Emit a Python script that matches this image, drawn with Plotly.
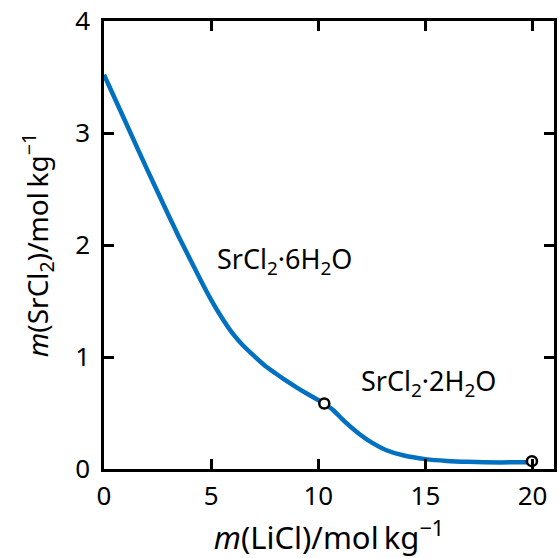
import plotly.graph_objects as go

# Solubility curve: SrCl2·6H2O branch (up to the first invariant point)
x_branch1 = [0, 1, 2, 3, 3.5, 4.0, 4.5, 5.0, 5.5, 6.0, 6.5, 7.0, 7.5, 8.0, 8.5, 9.0, 9.5, 10.28]
y_branch1 = [3.52, 3.10, 2.68, 2.27, 2.07, 1.88, 1.69, 1.51, 1.35, 1.21, 1.10, 1.01, 0.925, 0.855, 0.788, 0.727, 0.67, 0.585]

# SrCl2·2H2O branch
x_branch2 = [10.28, 10.7, 11.2, 11.9, 12.5, 13.15, 14.0, 15.0, 16.0, 17.0, 18.5, 20.0]
y_branch2 = [0.585, 0.525, 0.43, 0.315, 0.235, 0.17, 0.12, 0.088, 0.072, 0.064, 0.059, 0.06]

# Invariant points
x_points = [10.28, 19.97]
y_points = [0.585, 0.07]

# Phase labels
label_text = ["SrCl<sub>2</sub>·6H<sub>2</sub>O", "SrCl<sub>2</sub>·2H<sub>2</sub>O"]
label_x = [8.4, 15.14]
label_y = [1.86, 0.77]

x_ticks = [0, 5, 10, 15, 20]
y_ticks = [0, 1, 2, 3, 4]

FONT = "Noto Sans"
BLUE = "#0070C0"

fig = go.Figure()
for xs, ys in [(x_branch1, y_branch1), (x_branch2, y_branch2)]:
    fig.add_trace(go.Scatter(x=xs, y=ys, mode="lines",
                             line=dict(color=BLUE, width=4.5, shape="spline", smoothing=0.6),
                             hoverinfo="skip", showlegend=False))
fig.add_trace(go.Scatter(x=x_points, y=y_points, mode="markers",
                         marker=dict(symbol="circle", size=10, color="white",
                                     line=dict(color="black", width=2.5)),
                         showlegend=False))

for t, xx, yy in zip(label_text, label_x, label_y):
    fig.add_annotation(x=xx, y=yy, text=t, showarrow=False,
                       font=dict(family=FONT, size=27, color="black"))

axis_common = dict(showline=True, linecolor="black", linewidth=2.5, mirror="ticks",
                   ticks="inside", ticklen=10, tickwidth=2.5, tickcolor="black",
                   showgrid=False, zeroline=False, ticklabeloverflow="allow",
                   tickfont=dict(family=FONT, size=26, color="black"))

fig.update_xaxes(range=[0, 21], tickvals=x_ticks, ticklabelstandoff=2, **axis_common,
                 title=dict(text="<i>m</i>(LiCl)/mol\u2009kg<sup>−1</sup>",
                            font=dict(family=FONT, size=31, color="black"), standoff=11))
fig.update_yaxes(range=[0, 4], tickvals=y_ticks, ticklabelstandoff=6, **axis_common,
                 title=dict(text="<i>m</i>(SrCl<sub>2</sub>)/mol\u2009kg<sup>−1</sup>",
                            font=dict(family=FONT, size=28, color="black"), standoff=19))

fig.update_layout(width=559, height=558, margin=dict(l=104, r=2, t=16, b=89),
                  plot_bgcolor="white", paper_bgcolor="white")

fig.write_html("out.html")
